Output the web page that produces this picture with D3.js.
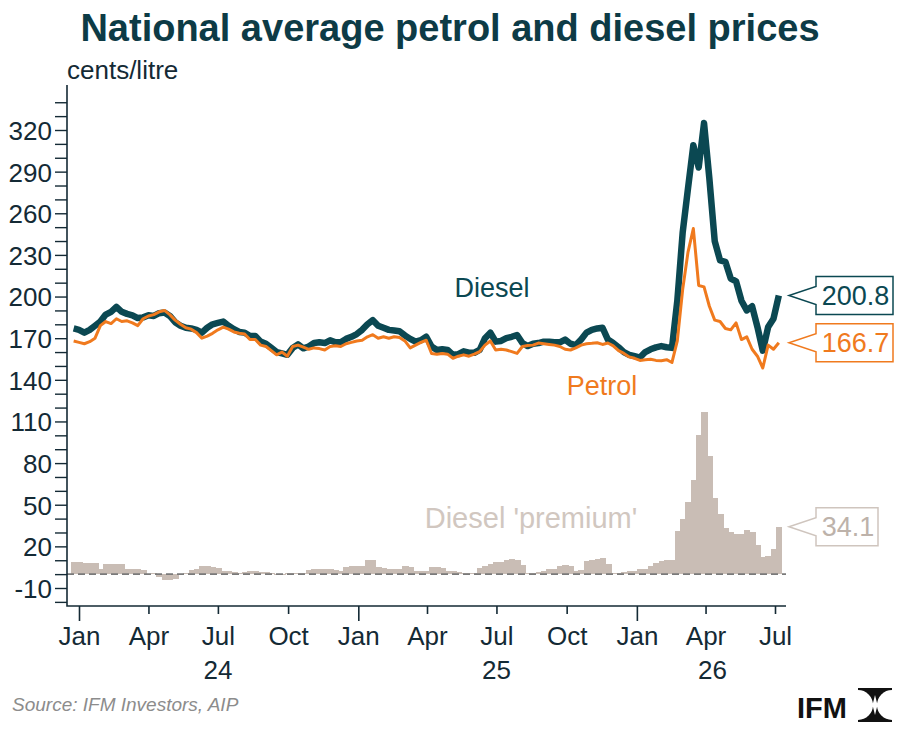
<!DOCTYPE html>
<html>
<head>
<meta charset="utf-8">
<script src="https://cdn.jsdelivr.net/npm/d3@7"></script>
<style>
  body { margin: 0; background: #fff; }
  svg { display: block; font-family: "Liberation Sans", Arial, sans-serif; }
</style>
</head>
<body>
<svg id="chart" width="900" height="731"></svg>
<script>
// weekly observations, first week starting 25 Dec 2023
var firstWeek = new Date(2023, 11, 25);

var diesel = [
  177, 176, 174, 176, 179, 182, 187, 189, 192.5, 189,
  187.5, 186.5, 184.5, 185, 186.5, 186, 188, 188.5, 186, 181.5,
  179, 177.5, 177, 176, 174, 177.5, 180, 181, 182, 179,
  176.5, 174.5, 174, 171.5, 171.5, 167.5, 166, 163, 160, 159,
  158, 163, 165.5, 162.7, 164, 166.5, 167, 166.5, 168.5, 167,
  167, 169.5, 171, 173, 176, 180, 183, 179, 177.5, 176,
  175.5, 175, 172, 169.5, 167.5, 168.5, 171, 164, 161.5, 162,
  161.5, 158, 158.5, 160.5, 159.5, 159.5, 161.5, 170, 174, 167.5,
  168, 170, 171, 172.3, 166.5, 164.3, 166, 166.5, 167.5, 167.5,
  167, 167, 169, 166, 165, 169, 174, 176, 177, 177.5,
  169, 166.5, 163.5, 160, 158, 157, 156, 160, 162, 163.4,
  164.3, 163.5, 163, 197, 246, 278, 309, 293, 325, 285,
  240, 226, 225, 213, 211, 197, 190, 193, 178, 161,
  178, 184, 200.8
];

var petrol = [
  168, 167, 166, 167.5, 170, 179, 182, 180.5, 184, 182,
  182.5, 181, 179, 184, 186, 187, 189, 190, 187, 183,
  180, 177.5, 176.5, 174, 170, 171.5, 173.5, 176, 178, 176.5,
  174.5, 173.5, 173, 169, 169, 165, 164, 161, 158, 160,
  157, 164, 165, 163.5, 162, 163, 162.5, 161.5, 164, 164.5,
  164, 166, 167, 168, 168.5, 171, 172.5, 170, 171, 170,
  171, 170.5, 168, 163, 165, 167, 168.5, 159, 158.5, 159,
  158.5, 155.5, 157, 158, 157, 158.5, 160.3, 165, 168, 161.5,
  162, 161.5, 160.3, 159, 164, 164.7, 165, 166.5, 166, 165.5,
  165, 164, 162, 161.5, 163, 165, 166, 166.3, 166.7, 165.5,
  166.5, 164.5, 161, 159, 156.5, 155.5, 154, 154.5, 154.8, 154,
  153.8, 154.5, 152.5, 168, 205, 232, 249, 208, 207, 193,
  183, 182, 177, 176, 181, 169, 171, 162, 157, 148.5,
  165, 162, 166.7
];

var premium = [
  9, 9, 8, 8, 8, 4, 7, 7.5, 7.5, 7,
  4, 3.5, 3.5, 3, 0, 1, -2, -4, -4.5, -3.5,
  -0.5, 0.5, 3, 4, 5.5, 5.5, 5, 4.5, 2.5, 2.5,
  1.2, 1, 1.5, 2.5, 2.5, 1.5, 1.5, 1, -0.7, -0.5,
  0.5, 0.5, 0.5, 0.5, 3, 3.5, 3.5, 3.5, 3.5, 3,
  2, 5, 5.5, 5.5, 6, 10, 10.5, 5, 4.5, 4,
  3.5, 3.5, 5.5, 5, 2.5, 2.5, 2.5, 5, 5, 4.5,
  2.5, 2.5, 1.4, 0.7, 0.7, 0.7, 4.5, 5.5, 7.5, 8.5,
  8.5, 10.5, 11, 10, 6.5, 1, 0.7, 1.5, 2, 3.5,
  3.5, 5.5, 6.5, 5.5, 2.5, 3, 9.5, 10.5, 11, 11.5,
  7, 0.7, 0.7, 1.5, 2, 2, 3.5, 3.5, 6, 8,
  9.5, 10, 10.5, 31, 40, 52, 68, 100, 117, 85,
  55, 43, 33, 30, 29, 29, 32, 30, 21, 12.5,
  13, 18, 34.1
];

var yTickLabels = [-10, 20, 50, 80, 110, 140, 170, 200, 230, 260, 290, 320];
var xTickDates = [
  new Date(2024, 0, 1), new Date(2024, 3, 1), new Date(2024, 6, 1), new Date(2024, 9, 1),
  new Date(2025, 0, 1), new Date(2025, 3, 1), new Date(2025, 6, 1), new Date(2025, 9, 1),
  new Date(2026, 0, 1), new Date(2026, 3, 1), new Date(2026, 6, 1)
];
var yearLabels = [
  { text: "24", date: new Date(2024, 6, 1) },
  { text: "25", date: new Date(2025, 6, 1) },
  { text: "26", date: new Date(2026, 3, 10) }
];

var teal = "#0b4852";
var orange = "#f07a1e";
var taupe = "#c9bdb5";
var ink = "#142a35";

var svg = d3.select("#chart");

var dates = diesel.map(function (d, i) {
  return d3.timeDay.offset(firstWeek, i * 7);
});

var x = d3.scaleTime()
  .domain([new Date(2024, 0, 1), new Date(2026, 6, 1)])
  .range([79, 775]);

var y = d3.scaleLinear()
  .domain([-10, 320])
  .range([588, 130]);

var axisLeftX = 67, axisBottomY = 606, plotRight = 786;

// title
svg.append("text")
  .attr("x", 450)
  .attr("y", 41)
  .attr("text-anchor", "middle")
  .style("font-size", "38px")
  .style("font-weight", "bold")
  .style("fill", "#0d3b46")
  .text("National average petrol and diesel prices");

svg.append("text")
  .attr("x", 67)
  .attr("y", 79)
  .style("font-size", "26px")
  .style("fill", ink)
  .text("cents/litre");

// premium bars
var weekW = x(dates[1]) - x(dates[0]);
svg.append("g")
  .attr("shape-rendering", "crispEdges")
  .selectAll("rect")
  .data(premium)
  .enter()
  .append("rect")
  .attr("x", function (d, i) { return x(dates[i]) - weekW / 2; })
  .attr("width", weekW + 1)
  .attr("y", function (d) { return y(Math.max(0, d)); })
  .attr("height", function (d) { return Math.abs(y(d) - y(0)); })
  .style("fill", taupe);

// zero line
svg.append("line")
  .attr("x1", axisLeftX)
  .attr("x2", plotRight)
  .attr("y1", y(0))
  .attr("y2", y(0))
  .style("stroke", "#7a7a7a")
  .style("stroke-width", 1.6)
  .style("stroke-dasharray", "7,4");

// lines
var line = d3.line()
  .x(function (d, i) { return x(dates[i]); })
  .y(function (d) { return y(d); });

svg.append("path")
  .datum(diesel)
  .attr("d", line)
  .style("fill", "none")
  .style("stroke", teal)
  .style("stroke-width", 6.5)
  .style("stroke-linejoin", "round");

svg.append("path")
  .datum(petrol)
  .attr("d", line)
  .style("fill", "none")
  .style("stroke", orange)
  .style("stroke-width", 3)
  .style("stroke-linejoin", "round");

// y axis
var yAxis = d3.axisLeft(y)
  .tickValues(d3.range(-20, 341, 10))
  .tickSize(12)
  .tickFormat(function (d) { return yTickLabels.indexOf(d) >= 0 ? d : ""; });

var gy = svg.append("g")
  .attr("transform", "translate(" + axisLeftX + ",0)")
  .call(yAxis);
gy.select(".domain").remove();
gy.selectAll(".tick line").style("stroke", ink).style("stroke-width", 1.4);
gy.selectAll(".tick text")
  .attr("x", -15)
  .attr("dy", "0.36em")
  .style("font-size", "26px")
  .style("font-family", "Liberation Sans, Arial, sans-serif")
  .style("fill", ink);

// frame lines
svg.append("path")
  .attr("d", "M" + axisLeftX + ",85V" + axisBottomY + "H" + plotRight)
  .style("fill", "none")
  .style("stroke", ink)
  .style("stroke-width", 1.6);

// x axis
var xAxis = d3.axisBottom(x)
  .tickValues(xTickDates)
  .tickSize(8)
  .tickFormat(d3.timeFormat("%b"));

var gx = svg.append("g")
  .attr("transform", "translate(0," + axisBottomY + ")")
  .call(xAxis);
gx.select(".domain").remove();
gx.selectAll(".tick line")
  .attr("y2", function (d) { return d.getMonth() === 0 ? 15 : 8; })
  .style("stroke", ink)
  .style("stroke-width", 1.6);
gx.selectAll(".tick text")
  .attr("y", 39)
  .attr("dy", 0)
  .style("font-size", "26px")
  .style("font-family", "Liberation Sans, Arial, sans-serif")
  .style("fill", ink);

svg.append("g")
  .selectAll("text")
  .data(yearLabels)
  .enter()
  .append("text")
  .attr("x", function (d) { return x(d.date); })
  .attr("y", 679)
  .attr("text-anchor", "middle")
  .style("font-size", "26px")
  .style("fill", ink)
  .text(function (d) { return d.text; });

// series labels
svg.append("text").attr("x", 492).attr("y", 297).attr("text-anchor", "middle")
  .style("font-size", "27px").style("fill", teal).text("Diesel");
svg.append("text").attr("x", 602).attr("y", 395).attr("text-anchor", "middle")
  .style("font-size", "27px").style("fill", orange).text("Petrol");
svg.append("text").attr("x", 531).attr("y", 528).attr("text-anchor", "middle")
  .style("font-size", "29px").style("fill", "#d1c7c0").text("Diesel 'premium'");

// end value callouts
function callout(value, label, right, stroke, textColor) {
  var cy = y(value), left = 816, tip = 789, h = 19, n = 9;
  var g = svg.append("g");
  g.append("path")
    .attr("d", "M" + left + "," + (cy - h) + "H" + right + "V" + (cy + h) + "H" + left +
      "V" + (cy + n) + "L" + tip + "," + cy + "L" + left + "," + (cy - n) + "Z")
    .style("fill", "#fff")
    .style("stroke", stroke)
    .style("stroke-width", 1.5);
  g.append("text")
    .attr("x", (left + right) / 2 + 1)
    .attr("y", cy + 9.5)
    .attr("text-anchor", "middle")
    .style("font-size", "27px")
    .style("fill", textColor)
    .text(label);
}
callout(diesel[diesel.length - 1], "200.8", 893, teal, teal);
callout(petrol[petrol.length - 1], "166.7", 893, orange, orange);
callout(premium[premium.length - 1], "34.1", 878, "#cfc5be", "#bdb2aa");

// source
svg.append("text")
  .attr("x", 12)
  .attr("y", 711)
  .style("font-size", "19px")
  .style("font-style", "italic")
  .style("fill", "#8c8c8c")
  .text("Source: IFM Investors, AIP");

// logo
svg.append("text")
  .attr("x", 797)
  .attr("y", 718)
  .style("font-size", "29px")
  .style("font-weight", "bold")
  .style("fill", "#111")
  .text("IFM");

svg.append("clipPath").attr("id", "logoClip")
  .append("rect").attr("width", 34).attr("height", 34);
var logo = svg.append("g")
  .attr("transform", "translate(858,688)")
  .attr("clip-path", "url(#logoClip)");
logo.append("rect").attr("width", 34).attr("height", 34).style("fill", "#111");
logo.append("circle").attr("cx", 0).attr("cy", 17).attr("r", 15).style("fill", "#fff");
logo.append("circle").attr("cx", 34).attr("cy", 17).attr("r", 15).style("fill", "#fff");
logo.append("path").attr("d", "M17,7L19,15L27,17L19,19L17,27L15,19L7,17L15,15Z").style("fill", "#fff");
</script>
</body>
</html>
